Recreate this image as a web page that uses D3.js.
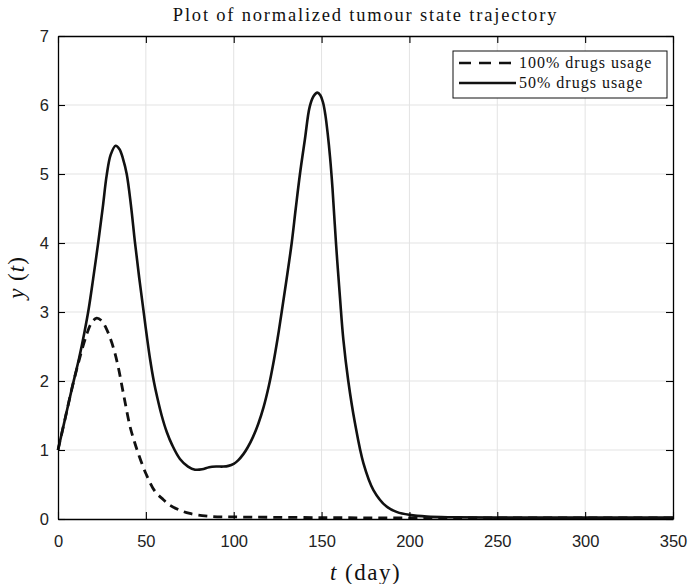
<!DOCTYPE html>
<html>
<head>
<meta charset="utf-8">
<script src="https://cdn.jsdelivr.net/npm/d3@7"></script>
<style>
  html, body { margin: 0; padding: 0; background: #fff; }
  svg { display: block; }
</style>
</head>
<body>
<svg id="chart" width="689" height="584"></svg>
<script>
// ---- data ----
const xTicks = [0, 50, 100, 150, 200, 250, 300, 350];
const yTicks = [0, 1, 2, 3, 4, 5, 6, 7];
const seriesNames = ["100% drugs usage", "50% drugs usage"];

const tFull = [0, 4, 8, 12, 16, 19, 22, 25, 27.5, 29.6, 32, 34.3, 37.2, 41, 43.5, 45.7, 50, 55.2, 60, 63.7, 70, 75, 82, 88, 100, 150, 200, 250, 350];
const yFull = [1.0, 1.45, 1.9, 2.3, 2.65, 2.84, 2.91, 2.87, 2.76, 2.63, 2.44, 2.2, 1.82, 1.34, 1.12, 0.95, 0.66, 0.40, 0.28, 0.20, 0.12, 0.08, 0.05, 0.035, 0.03, 0.02, 0.015, 0.015, 0.015];

const tHalf = [0, 4, 8, 12, 15, 17.5, 20, 22.9, 25.5, 27.7, 30, 32.8, 35, 37, 39.1, 41.5, 43.8, 46.2, 48.6, 50.5, 52.5, 54.5, 56.5, 59, 61.9, 65, 69.4, 74, 78, 82, 86, 90, 94, 97, 100, 102.5, 105.5, 108, 111, 114, 117, 120, 122.5, 125, 127.3, 130, 133, 135.3, 137.7, 140.5, 143.2, 145.5, 147.6, 149.3, 150.8, 152.2, 153.5, 154.8, 156.2, 158.2, 160.5, 162.4, 165.2, 169, 173.8, 179.5, 187, 193, 200, 210, 225, 250, 300, 350];
const yHalf = [1.0, 1.45, 1.9, 2.33, 2.7, 3.05, 3.48, 4.01, 4.52, 4.98, 5.28, 5.41, 5.36, 5.22, 5.0, 4.55, 4.01, 3.5, 3.03, 2.66, 2.3, 2.0, 1.76, 1.5, 1.26, 1.07, 0.87, 0.76, 0.715, 0.72, 0.75, 0.76, 0.76, 0.77, 0.8, 0.85, 0.94, 1.04, 1.19, 1.38, 1.62, 1.93, 2.25, 2.62, 3.0, 3.46, 4.0, 4.5, 5.0, 5.5, 5.97, 6.13, 6.18, 6.14, 6.04, 5.85, 5.58, 5.25, 4.8, 4.0, 3.2, 2.6, 2.0, 1.39, 0.81, 0.42, 0.18, 0.1, 0.06, 0.035, 0.025, 0.02, 0.02, 0.02];

// ---- layout ----
const svg = d3.select("#chart");
const L = 58, R = 673, T = 36, B = 519;
const x = d3.scaleLinear().domain([0, 350]).range([L, R]);
const y = d3.scaleLinear().domain([0, 7]).range([B, T]);

// grid
const grid = svg.append("g");
grid.selectAll("line.gx").data(xTicks.slice(1, -1)).join("line")
  .attr("x1", d => x(d)).attr("x2", d => x(d)).attr("y1", T).attr("y2", B)
  .attr("stroke", "#e3e3e3").attr("stroke-width", 1);
grid.selectAll("line.gy").data(yTicks.slice(1, -1)).join("line")
  .attr("x1", L).attr("x2", R).attr("y1", d => y(d)).attr("y2", d => y(d))
  .attr("stroke", "#e3e3e3").attr("stroke-width", 1);

// lines
const line = d3.line().curve(d3.curveCatmullRom.alpha(0.5)).x(d => x(d[0])).y(d => y(d[1]));
const dataFull = tFull.map((t, i) => [t, yFull[i]]);
const dataHalf = tHalf.map((t, i) => [t, yHalf[i]]);

const plot = svg.append("g");
plot.append("path").datum(dataHalf).attr("d", line)
  .attr("fill", "none").attr("stroke", "#111").attr("stroke-width", 2.6).attr("stroke-linejoin", "round");
plot.append("path").datum(dataFull).attr("d", line)
  .attr("fill", "none").attr("stroke", "#111").attr("stroke-width", 2.8)
  .attr("stroke-dasharray", "9,6");

// axes
const fontSans = "'Liberation Sans', Arial, Helvetica, sans-serif";
const xAxisB = d3.axisBottom(x).tickValues(xTicks).tickSizeInner(-7).tickSizeOuter(0).tickPadding(16).tickFormat(d3.format("d"));
const xAxisT = d3.axisTop(x).tickValues(xTicks).tickSizeInner(-7).tickSizeOuter(0).tickFormat("");
const yAxisL = d3.axisLeft(y).tickValues(yTicks).tickSizeInner(-7).tickSizeOuter(0).tickPadding(9).tickFormat(d3.format("d"));
const yAxisR = d3.axisRight(y).tickValues(yTicks).tickSizeInner(-7).tickSizeOuter(0).tickFormat("");

function styleAxis(g) {
  g.select(".domain").attr("stroke", "#000").attr("stroke-width", 1.3);
  g.selectAll(".tick line").attr("stroke", "#000").attr("stroke-width", 1.1);
  g.selectAll("text").attr("fill", "#222").style("font-family", fontSans).style("font-size", "16.5px");
}
svg.append("g").attr("transform", `translate(0,${B})`).call(xAxisB).call(styleAxis);
svg.append("g").attr("transform", `translate(0,${T})`).call(xAxisT).call(styleAxis);
svg.append("g").attr("transform", `translate(${L},0)`).call(yAxisL).call(styleAxis);
svg.append("g").attr("transform", `translate(${R},0)`).call(yAxisR).call(styleAxis);

// title and labels
const fontSerif = "'Liberation Serif', 'DejaVu Serif', serif";
svg.append("text").attr("x", (L + R) / 2).attr("y", 20.5).attr("text-anchor", "middle")
  .style("font-family", fontSerif).style("font-size", "18.5px").style("letter-spacing", "1.8px").attr("fill", "#111")
  .text("Plot of normalized tumour state trajectory");

const xl = svg.append("text").attr("x", (L + R) / 2).attr("y", 580).attr("text-anchor", "middle")
  .style("font-family", fontSerif).style("font-size", "23px").style("letter-spacing", "1.5px").attr("fill", "#111");
xl.append("tspan").style("font-style", "italic").text("t");
xl.append("tspan").text(" (day)");

const yl = svg.append("text").attr("transform", `translate(24,${(T + B) / 2}) rotate(-90)`).attr("text-anchor", "middle")
  .style("font-family", fontSerif).style("font-size", "23px").style("letter-spacing", "1px").attr("fill", "#111");
yl.append("tspan").style("font-style", "italic").text("y");
yl.append("tspan").text(" (");
yl.append("tspan").style("font-style", "italic").text("t");
yl.append("tspan").text(")");

// legend
const lg = svg.append("g");
lg.append("rect").attr("x", 453).attr("y", 51).attr("width", 214).attr("height", 47)
  .attr("fill", "#fff").attr("stroke", "#111").attr("stroke-width", 1);
const dashes = ["12,8", null];
seriesNames.forEach((name, i) => {
  const yy = 63 + i * 20;
  const ln = lg.append("line").attr("x1", 459).attr("x2", 516).attr("y1", yy).attr("y2", yy)
    .attr("stroke", "#111").attr("stroke-width", 2.6);
  if (dashes[i]) ln.attr("stroke-dasharray", dashes[i]);
  lg.append("text").attr("x", 519).attr("y", yy + 5)
    .style("font-family", fontSerif).style("font-size", "16px").style("letter-spacing", "1px").attr("fill", "#111").text(name);
});
</script>
</body>
</html>
